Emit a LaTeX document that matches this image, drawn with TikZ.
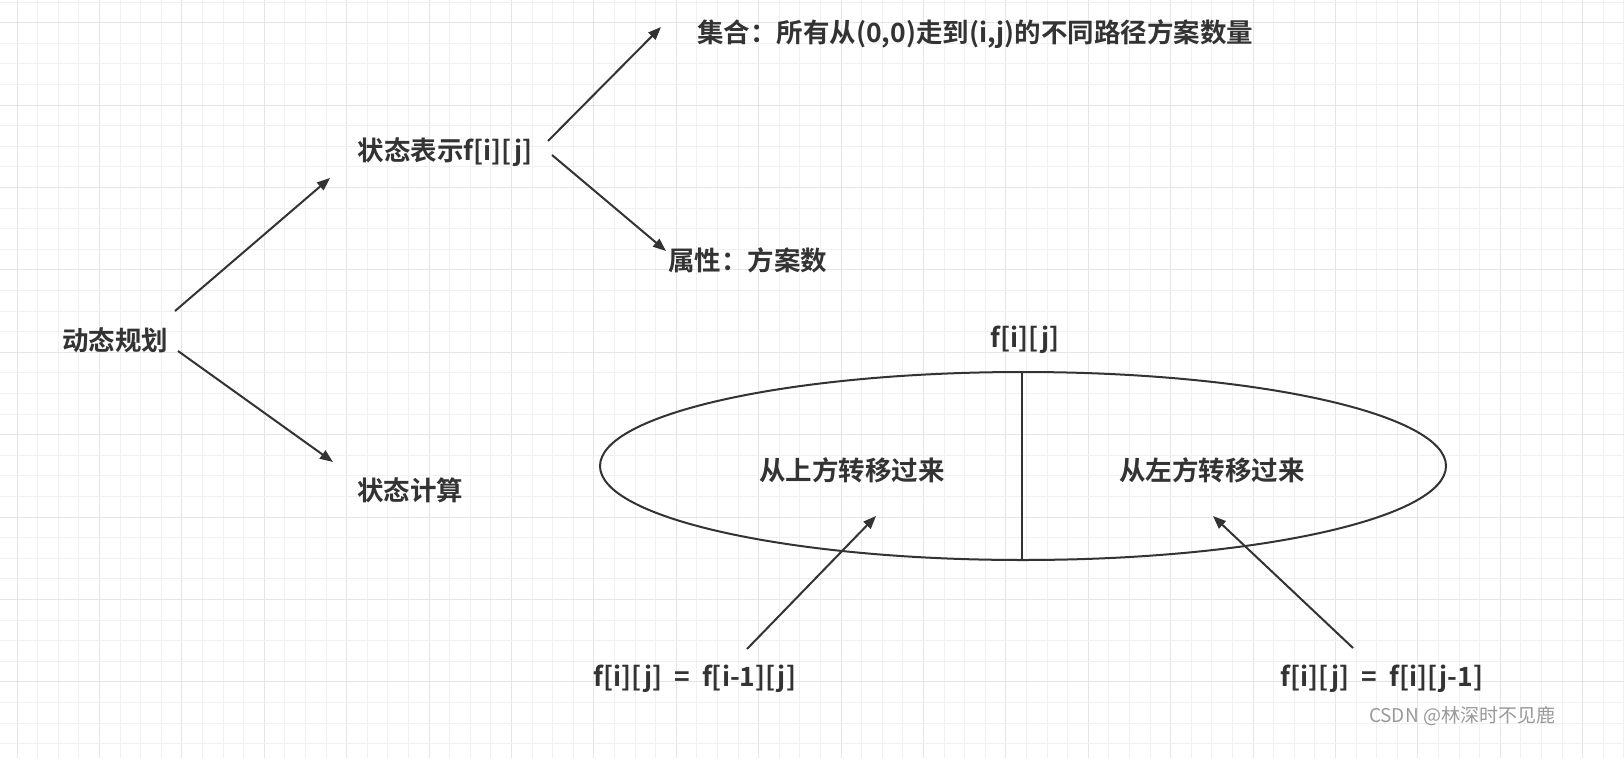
\documentclass[tikz,border=0pt]{standalone}
\usepackage{fontspec}
\setmainfont{Noto Sans CJK SC}
\newfontfamily\cjkb{Noto Sans CJK SC Bold}
\usetikzlibrary{arrows.meta}
\definecolor{ink}{HTML}{333333}
\begin{document}
\begin{tikzpicture}[x=1pt,y=-1pt,
  lbl/.style={font=\cjkb\fontsize{26.5}{30}\selectfont, text=ink, inner sep=0pt},
  arr/.style={draw=ink, line width=2pt, -{Triangle[length=13pt,width=10pt]}}]
\useasboundingbox (0,0) rectangle (1624,758);
\fill[white] (0,0) rectangle (1624,758);
\foreach \i in {0,...,79} {
  \pgfmathsetmacro\xx{17+20.6*(\i-1)}
  \pgfmathtruncatemacro\mm{mod(\i+3,4)}
  \ifnum\mm=0 \draw[line width=1pt,draw=black!10] (\xx,0) -- (\xx,758);
  \else \draw[line width=0.8pt,draw=black!6] (\xx,0) -- (\xx,758); \fi
}
\foreach \i in {0,...,37} {
  \pgfmathsetmacro\yy{2+20.6*\i}
  \pgfmathtruncatemacro\mm{mod(\i+3,4)}
  \ifnum\mm=0 \draw[line width=1pt,draw=black!10] (0,\yy) -- (1624,\yy);
  \else \draw[line width=0.8pt,draw=black!6] (0,\yy) -- (1624,\yy); \fi
}
\node[lbl] (dp) at (115,340) {动态规划};
\node[lbl] (rep) at (445,152) {状态表示f[i][j]};
\node[lbl,anchor=west] (set) at (697,34) {集合：所有从(0,0)走到(i,j)的不同路径方案数量};
\node[lbl,anchor=west] (attr) at (668,260) {属性：方案数};
\node[lbl] (calc) at (410,490) {状态计算};
\node[lbl] (top) at (1025,340) {f[i][j]};
\draw[ink,line width=2pt] (1023,466) ellipse [x radius=423, y radius=94];
\coordinate (vt) at (1022,372);
\coordinate (vb) at (1022,559);
\draw[ink,line width=2pt] (vt) -- (vb);
\node[lbl] (up) at (852,470) {从上方转移过来};
\node[lbl] (left) at (1212,470) {从左方转移过来};
\node[lbl] (e1) at (695,679) {f[i][j]\ \ =\ \ f[i-1][j]};
\node[lbl] (e2) at (1382,679) {f[i][j]\ \ =\ \ f[i][j-1]};
\node[text=black!40, font=\fontsize{19}{22}\selectfont, inner sep=0pt] (wm) at (1462,716) {CSDN @林深时不见鹿};
\coordinate (a1s) at (175,311); \coordinate (a1e) at (330,178);
\coordinate (a2s) at (178,351); \coordinate (a2e) at (333,462);
\coordinate (a3s) at (548,141); \coordinate (a3e) at (661,27);
\coordinate (a4s) at (552,155); \coordinate (a4e) at (666,251);
\coordinate (a5s) at (747,649); \coordinate (a5e) at (876,516);
\coordinate (a6s) at (1353,648); \coordinate (a6e) at (1213,516);
\draw[arr] (a1s) -- (a1e);
\draw[arr] (a2s) -- (a2e);
\draw[arr] (a3s) -- (a3e);
\draw[arr] (a4s) -- (a4e);
\draw[arr] (a5s) -- (a5e);
\draw[arr] (a6s) -- (a6e);
\end{tikzpicture}
\end{document}
